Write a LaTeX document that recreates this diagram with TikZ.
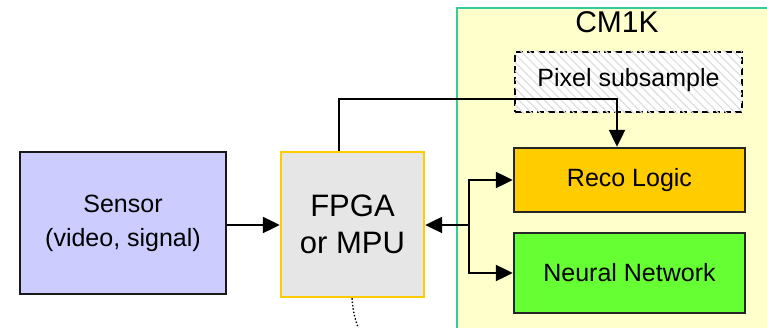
\documentclass[tikz,border=0pt]{standalone}
\usepackage{fontspec}
\setmainfont{Liberation Sans}
\usepackage{xcolor}
\usepackage{tikz}
\usetikzlibrary{arrows.meta,positioning,patterns.meta}
\definecolor{cmfill}{RGB}{255,255,204}
\definecolor{cmline}{RGB}{51,204,153}
\definecolor{recofill}{RGB}{255,204,0}
\definecolor{nnfill}{RGB}{102,255,51}
\definecolor{sensfill}{RGB}{204,204,255}
\definecolor{fpgafill}{RGB}{230,230,230}

\begin{document}
\begin{tikzpicture}[x=1pt,y=-1pt,>={Triangle[length=17pt,width=16pt]},
  blk/.style={draw,line width=2.4pt,inner sep=0pt,align=center,
    font=\fontsize{25}{34}\selectfont},
  conn/.style={line width=2.2pt}]
  \useasboundingbox (0,0) rectangle (767,328);
  % chip area
  \draw[cmline,fill=cmfill,line width=2.6pt] (457,8) rectangle (790,345);
  \node[font=\fontsize{30}{34}\selectfont] (chip) at (617,22) {CM1K};
  % blocks
  \node[blk,fill=sensfill,draw=black!90,line width=2.8pt,minimum width=206pt,minimum height=142pt]
    (sensor) at (123,223) {Sensor\\(video, signal)};
  \node[blk,fill=fpgafill,draw=recofill,minimum width=143pt,minimum height=145pt,
    font=\fontsize{31}{37}\selectfont] (fpga) at (352.5,224.5) {FPGA\\or MPU};
  \node[blk,fill=white,dash pattern=on 7pt off 4pt,line width=1.8pt,minimum width=227pt,minimum height=60pt]
    (pix) at (628.5,82) {};
  \fill[pattern={Lines[angle=-45,distance=6pt,line width=1.2pt]},pattern color=black!13]
    ([shift={(1pt,-1pt)}]pix.south west) rectangle ([shift={(-1pt,1pt)}]pix.north east);
  \node[font=\fontsize{25}{34}\selectfont] at ([yshift=2pt]pix) {Pixel subsample};
  \node[blk,fill=recofill,draw=black!85,minimum width=231pt,minimum height=64pt]
    (reco) at (629.5,180) {Reco Logic};
  \node[blk,fill=nnfill,draw=black!85,minimum width=231pt,minimum height=80pt]
    (nn) at (629.5,273) {Neural Network};
  % connections
  \coordinate (split) at (469,225);
  \coordinate (tail) at (359,330);
  \draw[conn,->] (sensor.east |- split) -- (split -| fpga.west);
  \draw[conn,->] ([xshift=-13.5pt]fpga.north) -- ++(0,-52) -| ([xshift=-12.5pt]reco.north);
  \draw[conn,->] (split) -- (split -| fpga.east);
  \draw[conn,->] (split) |- (reco.west);
  \draw[conn,->] (split) |- (nn.west);
  \draw[line width=1.4pt,dotted] ([xshift=-0.5pt]fpga.south) to[bend right=8] (tail);
\end{tikzpicture}
\end{document}
